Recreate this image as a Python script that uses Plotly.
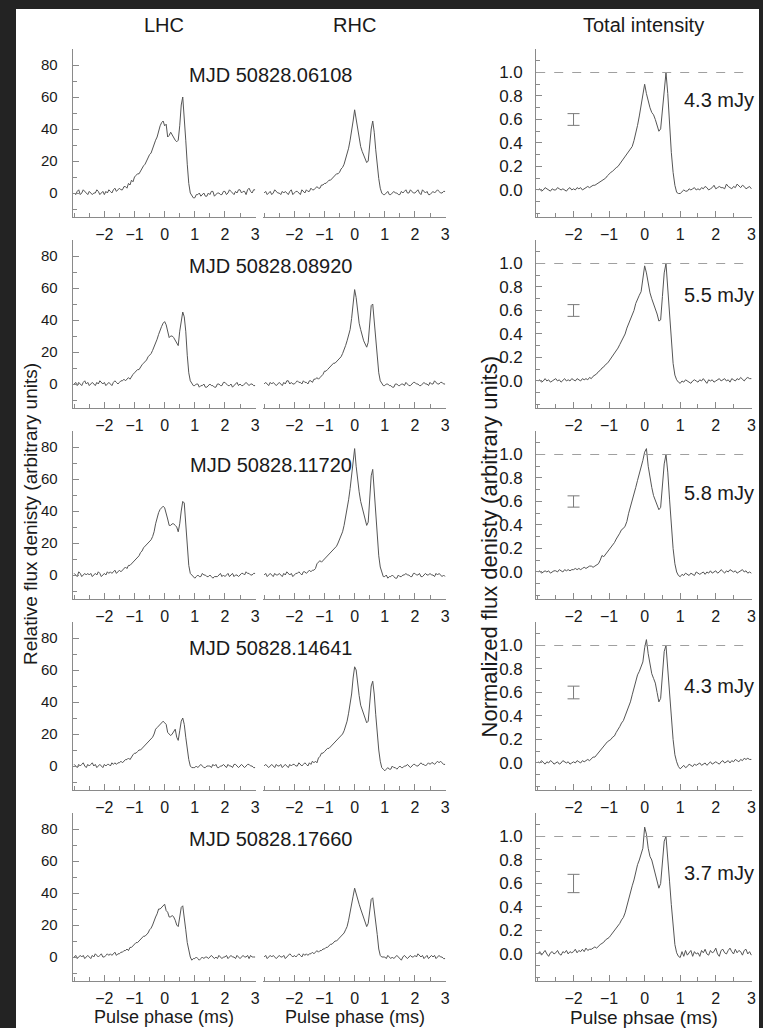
import plotly.graph_objects as go

W, H = 763, 1028

# pulse phase bins (ms), 0.05 ms resolution
phase = [round(-3.0 + 0.05 * i, 2) for i in range(121)]

column_titles = ["LHC", "RHC", "Total intensity"]
mjd_labels = ["MJD 50828.06108", "MJD 50828.08920", "MJD 50828.11720",
              "MJD 50828.14641", "MJD 50828.17660"]
flux_labels = ["4.3 mJy", "5.5 mJy", "5.8 mJy", "4.3 mJy", "3.7 mJy"]
err_center = [0.6, 0.6, 0.6, 0.6, 0.6]
err_half = [0.05, 0.05, 0.048, 0.054, 0.078]
x_ticks = [-2, -1, 0, 1, 2, 3]
lr_yticks = [0, 20, 40, 60, 80]
tot_yticks = [0.0, 0.2, 0.4, 0.6, 0.8, 1.0]

# each line = 10 bins (0.5 ms); last value = phase 3.0
lhc_1 = [0, -1, 1, 2, -1, 0, 2, 1, 0, -1,
         1, 0, -1, 0, 0, 2, 1, -1, 0, 1,
         -1, 1, 0, 2, 1, 0, 2, 3, 1, 2,
         3, 2, 2, 4, 4, 3, 6, 5, 8, 7,
         10, 11, 12, 12, 14, 16, 17, 18, 20, 23,
         24, 25, 28, 31, 33, 35, 39, 42, 44, 45,
         42, 43, 35, 36, 38, 36, 34, 33, 32, 33,
         42, 55, 60, 48, 33, 18, 6, 0, -2, -3,
         -3, -1, -1, 0, -2, -1, 0, -2, -2, 0,
         -1, 1, 1, -2, -1, 0, 0, -1, -1, 1,
         1, -1, 0, 2, 1, 0, -1, 1, 0, 2,
         2, 0, 1, 1, -1, 2, 3, 1, 0, 2,
         2]
rhc_1 = [0, 1, -1, 0, 1, -1, 0, 2, 1, 0,
         0, -1, 1, 0, 1, 0, -1, 1, 2, -1,
         0, 1, 1, 0, -1, 2, 1, 0, 2, 1,
         1, 3, 2, 2, 3, 4, 3, 3, 5, 5,
         6, 6, 7, 8, 8, 9, 10, 11, 12, 12,
         13, 15, 16, 18, 21, 24, 28, 33, 38, 45,
         52, 46, 38, 33, 29, 26, 24, 21, 19, 20,
         30, 40, 45, 38, 27, 17, 9, 3, 0, -1,
         -1, 0, 1, -1, -1, 0, 1, 0, 0, -1,
         -1, 1, 0, 1, 2, 0, 0, 2, 1, 0,
         0, 1, 2, 0, -1, 2, 1, 0, 1, -1,
         -1, 0, 1, 0, 1, 2, 1, 0, 0, 1,
         1]
tot_1 = [0.0, 0.01, -0.01, 0.0, 0.02, 0.01, 0.0, -0.01, 0.01, 0.0,
         0.0, 0.02, 0.01, 0.0, 0.01, 0.0, -0.01, 0.01, 0.02, 0.0,
         0.01, 0.0, 0.02, 0.01, 0.02, 0.0, 0.01, 0.02, 0.03, 0.02,
         0.03, 0.04, 0.04, 0.05, 0.06, 0.07, 0.08, 0.09, 0.1, 0.12,
         0.14, 0.15, 0.16, 0.18, 0.19, 0.2, 0.22, 0.24, 0.26, 0.28,
         0.31, 0.33, 0.34, 0.37, 0.42, 0.48, 0.55, 0.63, 0.72, 0.82,
         0.9, 0.82, 0.75, 0.7, 0.66, 0.64, 0.6, 0.55, 0.5, 0.52,
         0.7, 0.88, 1.0, 0.82, 0.55, 0.32, 0.15, 0.04, -0.02, -0.03,
         -0.03, -0.01, 0.0, -0.01, -0.01, 0.01, 0.0, 0.01, 0.02, 0.0,
         0.01, 0.0, 0.02, 0.01, 0.03, 0.02, 0.0, 0.01, 0.02, 0.04,
         0.01, 0.02, 0.03, 0.02, 0.02, 0.01, 0.05, 0.03, 0.02, 0.01,
         0.03, 0.02, 0.05, 0.03, 0.02, 0.04, 0.03, 0.01, 0.02, 0.03,
         0.01]

lhc_2 = [0, 1, -1, 1, 0, -1, 1, 2, 0, 1,
         -1, 0, 1, 0, -1, 1, 0, 2, 1, 0,
         1, -1, 0, 1, 0, -1, 1, 2, 1, 0,
         1, 2, 2, 3, 2, 3, 4, 3, 5, 6,
         7, 8, 9, 9, 11, 12, 13, 14, 15, 17,
         18, 19, 21, 23, 25, 28, 31, 34, 36, 38,
         39, 37, 32, 29, 30, 30, 29, 27, 25, 24,
         33, 41, 45, 42, 33, 18, 7, 2, 0, -1,
         -1, 0, 0, -2, -1, -1, 0, -2, -2, -1,
         0, -1, -1, -2, -2, 0, 0, -1, -1, 1,
         1, 0, -1, -1, 0, -2, -1, 0, 1, -1,
         0, -1, -1, 0, 1, 0, -1, 0, 0, -1,
         -1]
rhc_2 = [0, 1, 0, -1, 1, 0, 1, 0, -1, 0,
         1, 0, -1, 1, 0, 2, 2, 0, 1, 0,
         0, 1, 2, 1, 1, 0, 2, 1, 1, 0,
         2, 2, 1, 3, 3, 4, 3, 4, 5, 6,
         8, 8, 9, 10, 11, 12, 13, 13, 14, 15,
         16, 17, 19, 21, 24, 27, 30, 34, 41, 50,
         59, 54, 45, 38, 34, 30, 27, 25, 23, 26,
         38, 49, 50, 38, 25, 14, 7, 2, 0, -1,
         -1, 0, 0, -1, -1, -2, -2, 0, 0, -1,
         -1, 0, 0, -1, 1, 0, -1, -1, 0, 1,
         1, 0, 0, -1, -1, 0, 1, 0, 0, -1,
         1, 0, 0, 2, 1, 0, 0, 1, 1, 0,
         0]
tot_2 = [0.0, 0.01, -0.01, 0.0, 0.02, 0.0, 0.01, -0.01, 0.0, 0.01,
         0.02, 0.0, 0.01, -0.01, 0.01, 0.02, 0.0, 0.01, 0.0, 0.02,
         0.01, 0.0, 0.02, 0.01, 0.0, 0.02, 0.01, 0.02, 0.01, 0.03,
         0.02, 0.04, 0.05, 0.06, 0.08, 0.09, 0.11, 0.12, 0.14, 0.15,
         0.17, 0.19, 0.21, 0.23, 0.26, 0.28, 0.31, 0.34, 0.37, 0.4,
         0.45, 0.49, 0.52, 0.56, 0.6, 0.66, 0.7, 0.73, 0.76, 0.86,
         0.98, 0.92, 0.82, 0.75, 0.7, 0.66, 0.62, 0.57, 0.51, 0.52,
         0.72, 0.92, 1.0, 0.8, 0.55, 0.33, 0.15, 0.05, 0.01, -0.01,
         -0.02, 0.0, -0.01, 0.01, 0.0, -0.01, -0.02, 0.0, 0.01, 0.0,
         -0.01, 0.01, 0.0, 0.02, 0.0, -0.02, 0.01, 0.0, 0.01, -0.01,
         0.0, 0.01, 0.02, 0.0, 0.01, 0.02, 0.0, 0.01, -0.01, 0.02,
         0.01, 0.0, 0.02, 0.01, 0.03, 0.01, 0.0, 0.02, 0.03, 0.02,
         0.02]

lhc_3 = [1, 0, -1, 2, 1, -1, 0, 1, 0, 1,
         0, 1, -1, 0, 1, 0, 2, 1, -1, 0,
         1, 0, 2, 1, 2, 1, 2, 3, 1, 2,
         3, 2, 3, 4, 5, 4, 6, 6, 7, 8,
         9, 10, 11, 12, 14, 15, 17, 18, 19, 20,
         21, 22, 24, 27, 32, 36, 39, 41, 42, 43,
         42, 39, 35, 31, 31, 32, 32, 31, 30, 27,
         32, 40, 46, 45, 31, 16, 6, 1, 0, -1,
         -2, -1, 0, -1, -1, 1, 0, 0, -1, -1,
         0, -1, -2, -1, -1, -1, 0, 1, -1, 0,
         -1, 0, 1, -1, 0, 1, -1, 0, 0, -1,
         0, 1, 1, 0, 2, 1, 1, 0, 0, 1,
         1]
rhc_3 = [0, 1, -1, 0, 1, 0, -1, 1, 0, 0,
         1, 0, -1, 1, 0, 2, 1, 0, 1, -1,
         0, 1, 1, 2, 1, 0, 2, 2, 1, 2,
         3, 2, 3, 3, 4, 7, 8, 9, 8, 9,
         10, 11, 12, 13, 14, 15, 16, 17, 18, 20,
         22, 24, 27, 31, 36, 41, 47, 54, 62, 70,
         79, 68, 58, 52, 46, 42, 39, 35, 31, 33,
         50, 62, 66, 52, 38, 24, 12, 5, 1, -1,
         -1, 0, -2, -1, -1, 0, -1, -2, -2, 0,
         -1, -1, 0, 0, 1, 0, 0, -1, -1, 1,
         1, 0, 0, 1, -1, -1, 0, 1, 0, 0,
         1, 0, 0, -1, 1, 0, 1, 0, -1, 0,
         -1]
tot_3 = [0.0, 0.01, -0.01, 0.0, 0.01, 0.0, 0.01, -0.01, 0.0, 0.01,
         0.01, 0.0, 0.02, 0.01, 0.0, 0.02, 0.01, 0.02, 0.01, 0.02,
         0.02, 0.03, 0.02, 0.03, 0.02, 0.03, 0.04, 0.03, 0.04, 0.05,
         0.05, 0.04, 0.05, 0.06, 0.07, 0.1, 0.14, 0.13, 0.15, 0.17,
         0.18, 0.2, 0.22, 0.25, 0.28, 0.3, 0.33, 0.36, 0.37, 0.39,
         0.43, 0.5, 0.55, 0.61, 0.66, 0.72, 0.78, 0.83, 0.88, 0.95,
         1.02, 1.05, 0.9, 0.8, 0.72, 0.65, 0.61, 0.57, 0.53, 0.55,
         0.72, 0.92, 1.0, 0.85, 0.62, 0.4, 0.2, 0.07, 0.0, -0.03,
         -0.04, -0.02, -0.03, -0.01, -0.02, -0.03, -0.01, -0.02, -0.03, 0.0,
         -0.01, -0.02, -0.01, 0.0, -0.02, 0.0, -0.01, 0.01, -0.01, 0.0,
         0.01, -0.01, 0.0, 0.02, 0.0, -0.01, 0.01, 0.0, 0.02, 0.01,
         0.0, 0.01, -0.01, 0.0, 0.01, 0.02, 0.0, 0.01, -0.01, 0.0,
         -0.01]

lhc_4 = [1, 0, -1, 1, 0, 1, 2, 0, -1, 1,
         0, 1, 2, 0, 1, -1, 0, 1, 0, -1,
         1, 0, 1, 1, 0, 2, 1, 2, 1, 2,
         2, 3, 2, 3, 4, 4, 5, 4, 6, 7,
         8, 8, 9, 10, 10, 11, 12, 13, 14, 15,
         16, 17, 18, 20, 23, 24, 25, 26, 27, 28,
         27, 26, 21, 20, 19, 20, 22, 23, 18, 16,
         22, 28, 30, 26, 18, 10, 4, 0, -1, -1,
         -1, 0, -1, 0, 1, 0, -1, -1, 0, 0,
         0, -1, 1, 0, 1, -1, -1, 0, 0, 1,
         0, -1, 1, 0, 0, -1, 1, 1, 0, -1,
         0, 1, 0, -1, 0, 1, 1, 0, 0, -1,
         -1]
rhc_4 = [0, 1, 0, -1, 0, 1, 0, -1, 1, 0,
         0, 1, -1, 0, 1, 0, -1, 1, 0, 1,
         1, 0, 0, 2, 1, 0, 1, 2, 1, 0,
         2, 1, 3, 2, 3, 2, 5, 6, 8, 8,
         9, 10, 11, 11, 12, 13, 14, 15, 16, 17,
         18, 19, 20, 22, 25, 28, 33, 39, 45, 55,
         62, 60, 50, 44, 38, 35, 32, 30, 27, 28,
         40, 50, 53, 45, 32, 20, 10, 3, -1, -2,
         -3, -2, -1, -2, -2, 0, -1, -1, -2, -1,
         0, -1, -1, 0, 0, 1, 0, -1, 0, 1,
         1, 0, 0, 1, 2, 1, 1, 0, 1, 2,
         1, 2, 2, 1, 2, 3, 2, 3, 2, 1,
         1]
tot_4 = [0.01, 0.0, 0.02, 0.0, -0.01, 0.01, 0.0, 0.02, 0.01, -0.01,
         0.0, 0.01, -0.01, 0.0, 0.02, 0.01, 0.0, 0.01, -0.01, 0.0,
         0.01, 0.0, 0.02, 0.01, 0.0, 0.02, 0.01, 0.02, 0.03, 0.02,
         0.04, 0.05, 0.05, 0.07, 0.09, 0.11, 0.13, 0.15, 0.17, 0.18,
         0.19, 0.2, 0.22, 0.23, 0.26, 0.28, 0.31, 0.34, 0.36, 0.4,
         0.44, 0.48, 0.52, 0.58, 0.64, 0.7, 0.75, 0.78, 0.83, 0.86,
         0.98, 1.05, 0.93, 0.84, 0.76, 0.72, 0.68, 0.6, 0.52, 0.55,
         0.76, 0.95, 1.0, 0.82, 0.62, 0.4, 0.2, 0.07, 0.01, -0.03,
         -0.05, -0.03, -0.02, -0.04, -0.03, -0.01, -0.02, -0.03, -0.01, -0.02,
         -0.01, 0.0, -0.02, -0.01, 0.0, -0.02, 0.0, 0.01, -0.01, 0.0,
         0.01, 0.0, -0.01, 0.01, 0.02, 0.0, 0.01, 0.02, 0.0, 0.02,
         0.01, 0.03, 0.02, 0.01, 0.03, 0.02, 0.04, 0.03, 0.04, 0.03,
         0.03]

lhc_5 = [0, 1, -1, 0, 1, 0, 1, -1, 0, 1,
         0, -1, 1, 0, 2, 1, 0, 1, 2, 0,
         0, 1, 2, 1, 2, 1, 2, 3, 1, 2,
         2, 3, 3, 4, 4, 5, 4, 6, 6, 7,
         8, 9, 9, 10, 11, 12, 13, 13, 14, 15,
         17, 18, 20, 23, 25, 27, 30, 30, 31, 32,
         33, 29, 28, 25, 25, 26, 25, 23, 20, 19,
         25, 31, 32, 26, 17, 9, 3, 0, -2, -1,
         -1, 0, -1, -2, -1, 0, -1, 0, 0, -1,
         0, 1, 0, -1, 0, -1, 1, 0, -1, 0,
         0, 1, -1, 0, 1, 0, 0, -1, 1, 0,
         -1, 0, 1, 0, 0, 1, -1, 1, 0, 0,
         0]
rhc_5 = [0, 1, -1, 0, 1, 0, 1, 0, -1, 0,
         1, 0, 0, 1, -1, 0, 1, 2, 1, 0,
         1, 0, 1, 2, 1, 0, 2, 1, 2, 1,
         2, 2, 3, 2, 3, 4, 3, 4, 4, 5,
         5, 6, 6, 7, 8, 8, 9, 10, 10, 11,
         12, 13, 14, 15, 17, 19, 23, 29, 33, 38,
         43, 39, 36, 33, 30, 27, 25, 22, 19, 21,
         30, 36, 37, 30, 22, 14, 5, 1, 0, 0,
         0, -1, 1, 0, -1, 0, -1, 0, 1, 0,
         -1, -2, 0, 1, 0, -1, 0, 1, 0, 0,
         1, 0, 2, 1, 0, 1, -1, 0, 1, -1,
         0, 1, 0, 1, -1, 0, 1, 0, 0, -1,
         -1]
tot_5 = [0.0, 0.02, -0.01, 0.01, 0.03, 0.0, -0.02, 0.01, 0.02, 0.0,
         0.01, 0.03, 0.0, -0.01, 0.02, 0.01, 0.03, 0.0, 0.02, 0.01,
         0.02, 0.04, 0.01, 0.03, 0.02, 0.04, 0.02, 0.05, 0.03, 0.04,
         0.04, 0.05, 0.06, 0.05, 0.07, 0.08, 0.09, 0.1, 0.12, 0.13,
         0.14, 0.16, 0.18, 0.2, 0.21, 0.23, 0.26, 0.29, 0.31, 0.35,
         0.41, 0.48, 0.53, 0.58, 0.63, 0.7, 0.76, 0.8, 0.86, 0.9,
         1.08, 1.02, 0.9, 0.83, 0.8, 0.74, 0.68, 0.62, 0.56, 0.6,
         0.78, 0.96, 1.0, 0.84, 0.62, 0.42, 0.23, 0.08, 0.01, -0.02,
         -0.03, 0.02, -0.02, 0.03, -0.01, 0.01, 0.03, -0.02, 0.02, 0.0,
         0.01, -0.02, 0.03, 0.01, 0.04, 0.0, -0.01, 0.03, 0.01, 0.02,
         0.05, 0.0, -0.02, 0.03, 0.04, 0.01, 0.0, 0.03, 0.05, 0.02,
         0.0, 0.04, 0.01, 0.03, 0.02, -0.01, 0.03, 0.04, 0.0, 0.02,
         -0.01]

lhc = [lhc_1, lhc_2, lhc_3, lhc_4, lhc_5]
rhc = [rhc_1, rhc_2, rhc_3, rhc_4, rhc_5]
tot = [tot_1, tot_2, tot_3, tot_4, tot_5]

# ---------------- layout geometry (pixels) ----------------
FONT = "Liberation Sans, Arial, Helvetica, sans-serif"
LINE_C = "#8a8a8a"
DATA_C = "#555555"
TXT_C = "#1a1a1a"
FRAME_C = "#232323"
ML, MT = 16, 9                      # dark frame (left, top) of the scanned page
PW, PH = W - ML, H - MT
col_px = [(73, 257), (264, 448), (539, 756)]
row_top0, row_h, pitch = 49, 168, 191


def xp(px):
    return (px - ML) / PW


def yp(py):
    return 1 - (py - MT) / PH


fig = go.Figure()
layout = {}
for r in range(5):
    top = row_top0 + pitch * r
    bot = top + row_h
    for c in range(3):
        n = r * 3 + c + 1
        xa = "xaxis" if n == 1 else f"xaxis{n}"
        ya = "yaxis" if n == 1 else f"yaxis{n}"
        xref = "x" if n == 1 else f"x{n}"
        yref = "y" if n == 1 else f"y{n}"
        series = [lhc, rhc, tot][c][r]
        fig.add_trace(go.Scatter(x=phase, y=series, mode="lines",
                                 line=dict(color=DATA_C, width=1),
                                 xaxis=xref, yaxis=yref, showlegend=False,
                                 hoverinfo="skip"))
        layout[xa] = dict(
            domain=[xp(col_px[c][0]), xp(col_px[c][1])],
            range=[-3.05, 3.02], anchor=yref,
            tickvals=x_ticks, showline=True, linecolor=LINE_C, linewidth=1,
            ticks="inside", ticklen=6, tickcolor=LINE_C, tickwidth=1,
            minor=dict(ticks="inside", ticklen=4, tickcolor=LINE_C, dtick=0.5, tick0=0),
            showgrid=False, zeroline=False,
            tickfont=dict(family=FONT, size=16, color=TXT_C),
            ticklabelstandoff=3, fixedrange=True)
        if c == 2:
            layout[ya] = dict(
                domain=[yp(bot), yp(top)], range=[-0.23, 1.2], anchor=xref,
                tickvals=tot_yticks, ticktext=[f"{v:.1f}" for v in tot_yticks],
                showline=True, linecolor=LINE_C, linewidth=1,
                ticks="inside", ticklen=6, tickcolor=LINE_C,
                minor=dict(ticks="inside", ticklen=4, tickcolor=LINE_C, dtick=0.1, tick0=0),
                showgrid=False, zeroline=False,
                tickfont=dict(family=FONT, size=17, color=TXT_C),
                ticklabelstandoff=9, fixedrange=True)
        elif c == 0:
            layout[ya] = dict(
                domain=[yp(bot), yp(top)], range=[-15, 90], anchor=xref,
                tickvals=lr_yticks, showline=True, linecolor=LINE_C, linewidth=1,
                ticks="inside", ticklen=6, tickcolor=LINE_C,
                minor=dict(ticks="inside", ticklen=4, tickcolor=LINE_C, dtick=10, tick0=0),
                showgrid=False, zeroline=False,
                tickfont=dict(family=FONT, size=15, color=TXT_C),
                ticklabelstandoff=11, fixedrange=True)
        else:
            layout[ya] = dict(domain=[yp(bot), yp(top)], range=[-15, 90],
                              anchor=xref, visible=False, fixedrange=True)

    # total-intensity extras: error bar, dashed unit line
    n3 = r * 3 + 3
    fig.add_trace(go.Scatter(x=[-2], y=[err_center[r]], mode="markers",
                             marker=dict(size=1, color="rgba(0,0,0,0)"),
                             error_y=dict(type="data", array=[err_half[r]], visible=True,
                                          color="#7a7a7a", thickness=1, width=6),
                             xaxis=f"x{n3}", yaxis=f"y{n3}", showlegend=False,
                             hoverinfo="skip"))
    fig.add_shape(type="line", xref=f"x{n3} domain", yref=f"y{n3}",
                  x0=0, x1=1, y0=1.0, y1=1.0,
                  line=dict(color="#a0a0a0", width=1, dash="dash"))

fig.update_layout(**layout)

# white page inside the dark frame (frame = paper margin)
fig.add_shape(type="rect", xref="paper", yref="paper", layer="below",
              x0=0, x1=1, y0=0, y1=1, fillcolor="white", line=dict(width=0))


def note(text, px, py, size, angle=0):
    return dict(text=text, x=xp(px), y=yp(py), xref="paper", yref="paper",
                xanchor="center", yanchor="middle", showarrow=False,
                textangle=angle, font=dict(family=FONT, size=size, color=TXT_C))


ann = []
for c, t in enumerate(column_titles):
    ann.append(note(t, [165, 356, 647][c], 25, 20))
mjd_y = [75, 266, 465, 648, 839]
flux_y = [100, 295, 493, 686, 873]
for r in range(5):
    ann.append(note(mjd_labels[r], 272, mjd_y[r], 20))
    ann.append(note(flux_labels[r], 723, flux_y[r], 20))
for cx in [165, 357]:
    ann.append(note("Pulse phase (ms)", cx, 1017, 18))
ann.append(note("Pulse phsae (ms)", 647, 1017, 19))
ann.append(note("Relative flux denisty (arbitrary units)", 30, 514, 19, -90))
ann.append(note("Normalized flux denisty (arbitrary units)", 492, 547, 22, -90))

fig.update_layout(
    width=W, height=H, margin=dict(l=ML, r=0, t=MT, b=0, pad=0),
    paper_bgcolor=FRAME_C, plot_bgcolor="rgba(0,0,0,0)",
    annotations=ann, showlegend=False,
)

fig.write_html("out.html", config={"displayModeBar": False},
               post_script="document.body.style.margin='0';"
                           "document.body.style.overflow='hidden';"
                           "document.documentElement.style.overflow='hidden';")
